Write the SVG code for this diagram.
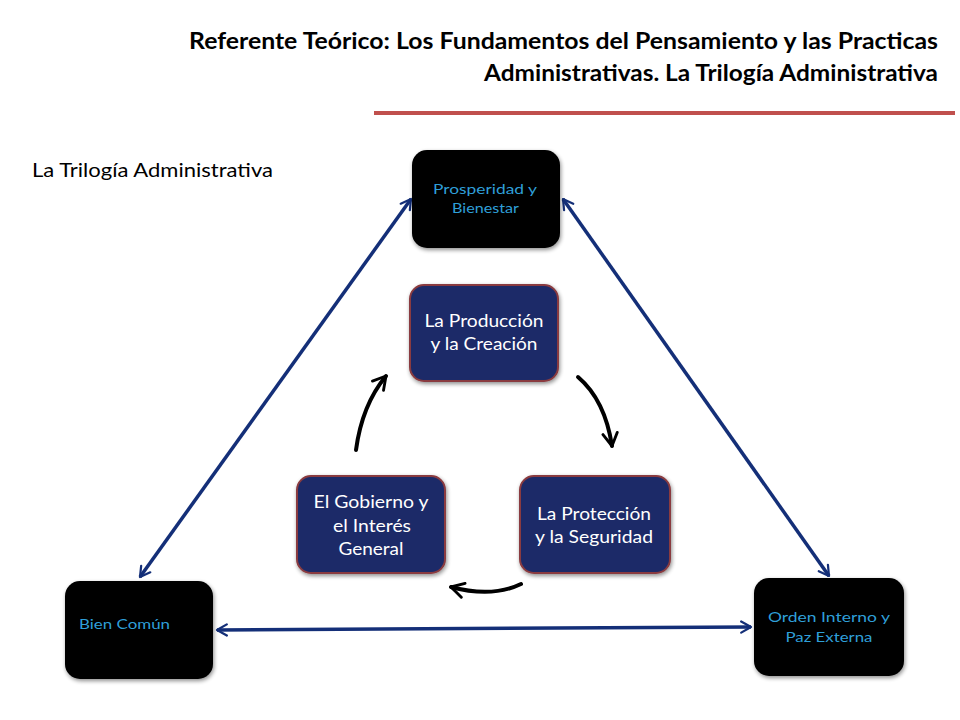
<svg xmlns="http://www.w3.org/2000/svg" width="960" height="720" viewBox="0 0 960 720">
<style>
.title{font-family:Lato,"Open Sans","Liberation Sans",sans-serif;font-weight:bold;font-size:23px;fill:#000}
.sub{font-family:Lato,"Open Sans","Liberation Sans",sans-serif;font-size:19px;fill:#000}
.blk{fill:#000;filter:url(#sh)}
.blt{font-family:Lato,"Open Sans","Liberation Sans",sans-serif;font-size:14px;fill:#2f9fd8}
.nav{fill:#1b2a68;stroke:#8a3b3f;stroke-width:2;filter:url(#sh)}
.nvt{font-family:Lato,"Open Sans","Liberation Sans",sans-serif;font-size:17px;fill:#fff}
.con{stroke:#142f78;stroke-width:3.5;fill:none}
.cyc{stroke:#000;stroke-width:4;fill:none;stroke-linecap:round}
</style>
<defs>
<filter id="sh" x="-10%" y="-10%" width="130%" height="130%">
<feGaussianBlur in="SourceAlpha" stdDeviation="2"/>
<feOffset dx="1" dy="2"/>
<feComponentTransfer><feFuncA type="linear" slope="0.45"/></feComponentTransfer>
<feMerge><feMergeNode/><feMergeNode in="SourceGraphic"/></feMerge>
</filter>
<marker id="ah" viewBox="0 0 10 10" refX="8" refY="5" markerWidth="4" markerHeight="4" orient="auto-start-reverse" markerUnits="strokeWidth">
<path d="M1,1 L8,5 L1,9" fill="none" stroke="#142f78" stroke-width="1.6" stroke-linecap="round" stroke-linejoin="round"/>
</marker>
<marker id="bh" viewBox="0 0 10 10" refX="8" refY="5" markerWidth="4.5" markerHeight="4.5" orient="auto" markerUnits="strokeWidth">
<path d="M1,1 L8,5 L1,9" fill="none" stroke="#000" stroke-width="1.6" stroke-linecap="round" stroke-linejoin="round"/>
</marker>
</defs>
<rect width="960" height="720" fill="#fff"/>
<g id="title">
<text class="title" x="938" y="49" text-anchor="end" textLength="749" lengthAdjust="spacingAndGlyphs">Referente Teórico: Los Fundamentos del Pensamiento y las Practicas</text>
<text class="title" x="938" y="81" text-anchor="end" textLength="454" lengthAdjust="spacingAndGlyphs">Administrativas. La Trilogía Administrativa</text>
<line x1="374" y1="113" x2="955" y2="113" stroke="#c0504d" stroke-width="4"/>
</g>
<text class="sub" x="32" y="177" textLength="241" lengthAdjust="spacingAndGlyphs">La Trilogía Administrativa</text>
<g id="connectors">
<line class="con" x1="411" y1="199" x2="140" y2="577" marker-start="url(#ah)" marker-end="url(#ah)"/>
<line class="con" x1="563" y1="199" x2="829" y2="576" marker-start="url(#ah)" marker-end="url(#ah)"/>
<line class="con" x1="217" y1="630" x2="751" y2="627" marker-start="url(#ah)" marker-end="url(#ah)"/>
<path class="cyc" d="M578,377 Q605,400 612,446" marker-end="url(#bh)"/>
<path class="cyc" d="M521,584 Q492,598 451,587" marker-end="url(#bh)"/>
<path class="cyc" d="M356,450 Q362,405 386,376" marker-end="url(#bh)"/>
</g>
<g id="prosperidad">
<rect class="blk" x="412" y="150" width="148" height="98" rx="15"/>
<text class="blt" x="433" y="194" textLength="104" lengthAdjust="spacingAndGlyphs">Prosperidad y</text>
<text class="blt" x="452" y="213" textLength="67" lengthAdjust="spacingAndGlyphs">Bienestar</text>
</g>
<g id="bien-comun">
<rect class="blk" x="65" y="581" width="148" height="98" rx="15"/>
<text class="blt" x="79" y="629" textLength="91" lengthAdjust="spacingAndGlyphs">Bien Común</text>
</g>
<g id="orden">
<rect class="blk" x="754" y="578" width="150" height="98" rx="15"/>
<text class="blt" x="829" y="622" text-anchor="middle" textLength="122" lengthAdjust="spacingAndGlyphs">Orden Interno y</text>
<text class="blt" x="829" y="642" text-anchor="middle" textLength="87" lengthAdjust="spacingAndGlyphs">Paz Externa</text>
</g>
<g id="produccion">
<rect class="nav" x="410" y="285" width="148" height="96" rx="14"/>
<text class="nvt" x="484" y="327" text-anchor="middle" textLength="119" lengthAdjust="spacingAndGlyphs">La Producción</text>
<text class="nvt" x="484" y="350" text-anchor="middle" textLength="107" lengthAdjust="spacingAndGlyphs">y la Creación</text>
</g>
<g id="gobierno">
<rect class="nav" x="297" y="476" width="148" height="97" rx="14"/>
<text class="nvt" x="371" y="508" text-anchor="middle" textLength="115" lengthAdjust="spacingAndGlyphs">El Gobierno y</text>
<text class="nvt" x="372" y="532" text-anchor="middle" textLength="78" lengthAdjust="spacingAndGlyphs">el Interés</text>
<text class="nvt" x="371" y="555" text-anchor="middle" textLength="65" lengthAdjust="spacingAndGlyphs">General</text>
</g>
<g id="proteccion">
<rect class="nav" x="520" y="476" width="150" height="97" rx="14"/>
<text class="nvt" x="594" y="520" text-anchor="middle" textLength="114" lengthAdjust="spacingAndGlyphs">La Protección</text>
<text class="nvt" x="594" y="543" text-anchor="middle" textLength="118" lengthAdjust="spacingAndGlyphs">y la Seguridad</text>
</g>
</svg>
